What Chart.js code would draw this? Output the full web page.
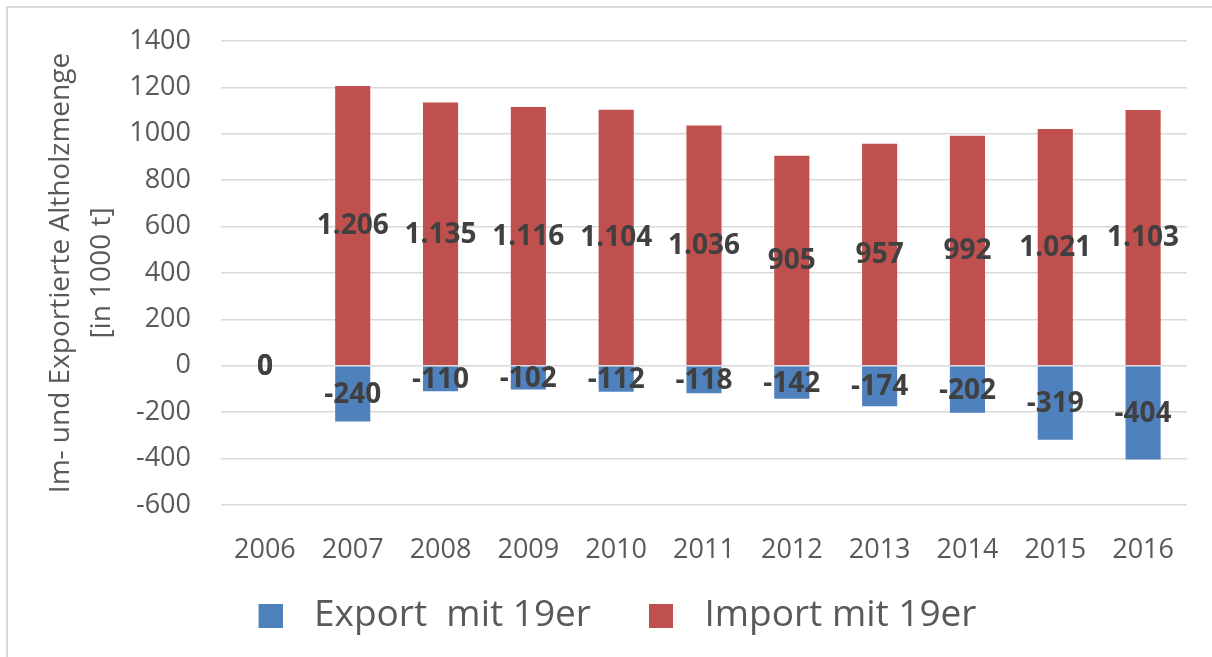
<!DOCTYPE html>
<html>
<head>
<meta charset="utf-8">
<script src="https://cdn.jsdelivr.net/npm/chart.js@4/dist/chart.umd.min.js"></script>
<style>
  html, body { margin: 0; padding: 0; background: #fff; overflow: hidden; }
  #frame { position: absolute; left: 6px; top: 6px; width: 1240px; height: 700px; border: 2px solid #D9D9D9; box-sizing: border-box; }
  #wrap { position: absolute; left: 0; top: 0; width: 1212px; height: 657px; }
</style>
</head>
<body>
<div id="frame"></div>
<div id="wrap"><canvas id="chart"></canvas></div>
<script>
// --- data ---
const years = ['2006', '2007', '2008', '2009', '2010', '2011', '2012', '2013', '2014', '2015', '2016'];
const exportValues = [0, -240, -110, -102, -112, -118, -142, -174, -202, -319, -404];
const importValues = [0, 1206, 1135, 1116, 1104, 1036, 905, 957, 992, 1021, 1103];
const seriesNames = ['Export  mit 19er', 'Import mit 19er'];
const axisTitle = ['Im- und Exportierte Altholzmenge', '[in 1000 t]'];

const FONT = "'Open Sans', 'Noto Sans', sans-serif";
const BLUE = '#4F81BD';
const RED = '#C0504D';
const GREY = '#595959';
const LEGEND_W = 85;

// legend swatch: square drawn at the right end of a wider transparent image
function swatch(color) {
    const c = document.createElement('canvas');
    c.width = LEGEND_W - 26;
    c.height = 24;
    const g = c.getContext('2d');
    g.fillStyle = color;
    g.fillRect(c.width - 24, 0, 24, 24);
    return c;
}

// value labels centred in each bar segment
const barLabels = {
    id: 'barLabels',
    afterDatasetsDraw(chart) {
        const ctx = chart.ctx;
        ctx.save();
        ctx.font = `bold 28px ${FONT}`;
        ctx.fillStyle = '#404040';
        ctx.textAlign = 'center';
        ctx.textBaseline = 'middle';
        chart.data.datasets.forEach((ds, di) => {
            const meta = chart.getDatasetMeta(di);
            meta.data.forEach((bar, i) => {
                const v = ds.data[i];
                const y = (bar.y + bar.base) / 2;
                ctx.fillText(v.toLocaleString('de-DE'), bar.x, y + 1);
            });
        });
        ctx.restore();
    }
};

new Chart(document.getElementById('chart'), {
    type: 'bar',
    data: {
        labels: years,
        datasets: [
            { label: seriesNames[0], data: exportValues, backgroundColor: BLUE, pointStyle: swatch(BLUE) },
            { label: seriesNames[1], data: importValues, backgroundColor: RED, pointStyle: swatch(RED) }
        ]
    },
    plugins: [barLabels],
    options: {
        responsive: true,
        maintainAspectRatio: false,
        animation: false,
        datasets: { bar: { barPercentage: 0.4, categoryPercentage: 1.0 } },
        layout: { padding: { left: 0, right: 25, top: 41, bottom: 13 } },
        plugins: {
            tooltip: { enabled: false },
            legend: {
                position: 'bottom',
                labels: {
                    usePointStyle: true,
                    pointStyleWidth: LEGEND_W,
                    boxHeight: 24,
                    padding: 10,
                    color: GREY,
                    font: { family: FONT, size: 37 }
                }
            }
        },
        scales: {
            x: {
                stacked: true,
                grid: { display: false },
                border: { display: false },
                ticks: { color: GREY, padding: 21, font: { family: FONT, size: 27 } },
                afterFit: (scale) => { scale.height = 82; }
            },
            y: {
                stacked: true,
                min: -600,
                max: 1400,
                grid: { color: '#D9D9D9', lineWidth: 1.5, drawTicks: false },
                border: { display: false },
                ticks: {
                    stepSize: 200,
                    color: GREY,
                    padding: 30,
                    font: { family: FONT, size: 27 },
                    callback: (value) => String(value)
                },
                title: {
                    display: true,
                    text: axisTitle,
                    color: GREY,
                    padding: { top: 41, bottom: 0 },
                    font: { family: FONT, size: 28, lineHeight: 1.45 }
                },
                afterFit: (scale) => {
                    scale.width = 221;
                    // the rotated title inflates the vertical padding; the layout padding handles it
                    scale.paddingTop = 0;
                    scale.paddingBottom = 0;
                }
            }
        }
    }
});
</script>
</body>
</html>
